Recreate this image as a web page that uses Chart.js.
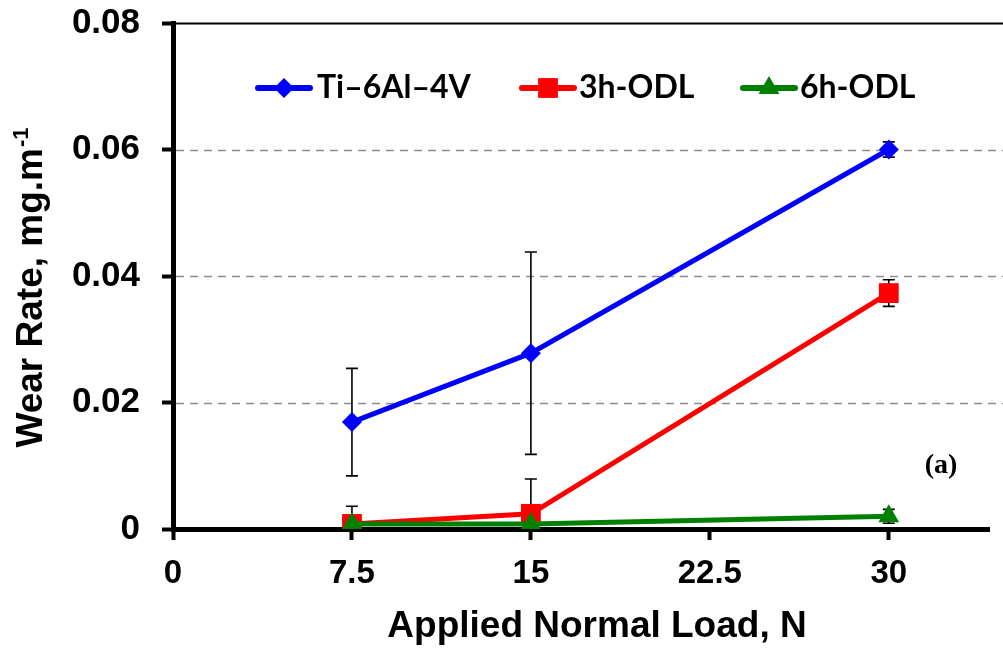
<!DOCTYPE html>
<html>
<head>
<meta charset="utf-8">
<script src="https://cdn.jsdelivr.net/npm/chart.js@4.4.0/dist/chart.umd.min.js"></script>
<style>
  html, body { margin: 0; padding: 0; background: #fff; }
  canvas { display: block; }
</style>
</head>
<body>
<canvas id="wearChart" width="1003" height="655"></canvas>
<script>
// ---- data ----
const loads = [7.5, 15, 30];
const seriesNames = ['Ti\u20136Al\u20134V', '3h-ODL', '6h-ODL'];
const tiRate = [0.0169, 0.0278, 0.0600];
const tiErr = [0.0085, 0.0160, 0.0012];
const odl3Rate = [0.0008, 0.0024, 0.0373];
const odl3Err = [0.0028, 0.0055, 0.0021];
const odl6Rate = [0.0008, 0.0008, 0.0020];
const odl6Err = [0.0004, 0.0003, 0.0011];
const xTicks = [0, 7.5, 15, 22.5, 30];
const yTicks = [0, 0.02, 0.04, 0.06, 0.08];

const boldSans = '"Liberation Sans", Arial, sans-serif';

function pts(vals) {
    return loads.map((x, i) => ({ x: x, y: vals[i] }));
}

/*------ error bars + dashed grid ------*/
const extras = {
    id: 'extras',
    beforeDatasetsDraw(chart) {
        const ctx = chart.ctx;
        const xs = chart.scales.x, ys = chart.scales.y;
        const area = chart.chartArea;
        ctx.save();
        // horizontal grid
        yTicks.forEach(v => {
            if (v === 0) return;
            const y = Math.round(ys.getPixelForValue(v)) + 0.5;
            ctx.beginPath();
            if (v === yTicks[yTicks.length - 1]) {
                ctx.setLineDash([]);
                ctx.strokeStyle = '#000';
                ctx.lineWidth = 2;
            } else {
                ctx.setLineDash([8, 6]);
                ctx.strokeStyle = '#8c8c8c';
                ctx.lineWidth = 1.5;
            }
            ctx.moveTo(area.left + 3, y);
            ctx.lineTo(chart.width, y);
            ctx.stroke();
        });
        ctx.setLineDash([]);
        // error bars
        ctx.beginPath();
        ctx.rect(area.left, area.top - 10, area.right - area.left, area.bottom - area.top + 10);
        ctx.clip();
        ctx.strokeStyle = '#000';
        ctx.lineWidth = 1.6;
        chart.data.datasets.forEach(ds => {
            ds.data.forEach((p, i) => {
                const e = ds.errors[i];
                const x = xs.getPixelForValue(p.x);
                const y1 = ys.getPixelForValue(p.y + e);
                const y2 = ys.getPixelForValue(p.y - e);
                ctx.beginPath();
                ctx.moveTo(x, y1); ctx.lineTo(x, y2);
                ctx.moveTo(x - 6, y1); ctx.lineTo(x + 6, y1);
                ctx.moveTo(x - 6, y2); ctx.lineTo(x + 6, y2);
                ctx.stroke();
            });
        });
        ctx.restore();
    },
    afterDraw(chart) {
        const ctx = chart.ctx;
        ctx.save();
        // legend
        const legendX = [284, 548, 769];
        const textX = [317, 579, 800];
        chart.data.datasets.forEach((ds, i) => {
            const cx = legendX[i], cy = 88;
            ctx.strokeStyle = ds.borderColor;
            ctx.lineWidth = 6;
            ctx.lineCap = 'round';
            ctx.beginPath();
            ctx.moveTo(cx - 26, cy);
            ctx.lineTo(cx + 26, cy);
            ctx.stroke();
            ctx.fillStyle = ds.pointBackgroundColor;
            Chart.helpers.drawPoint(ctx, {
                pointStyle: ds.pointStyle, radius: ds.pointRadius, rotation: 0, borderWidth: 0
            }, cx, cy);
            ctx.fillStyle = '#000';
            ctx.font = 'bold 32px Lato, "Open Sans", sans-serif';
            ctx.textAlign = 'left';
            ctx.textBaseline = 'alphabetic';
            ctx.fillText(ds.label, textX[i], 98);
        });

        // x title
        ctx.fillStyle = '#000';
        ctx.font = 'bold 37px ' + boldSans;
        ctx.textAlign = 'center';
        ctx.fillText('Applied Normal Load, N', 597, 637);

        // y title with superscript
        const main = 'Wear Rate, mg.m';
        const sup = '-1';
        ctx.font = 'bold 37px ' + boldSans;
        const wMain = ctx.measureText(main).width;
        ctx.font = 'bold 22px ' + boldSans;
        const wSup = ctx.measureText(sup).width;
        ctx.translate(42, 288);
        ctx.rotate(-Math.PI / 2);
        ctx.textAlign = 'left';
        const start = -(wMain + wSup) / 2;
        ctx.font = 'bold 37px ' + boldSans;
        ctx.fillText(main, start, 0);
        ctx.font = 'bold 22px ' + boldSans;
        ctx.fillText(sup, start + wMain + 1, -14);
        ctx.setTransform(1, 0, 0, 1, 0, 0);

        // panel label
        ctx.font = 'bold 28px "Liberation Serif", "Times New Roman", serif';
        ctx.textAlign = 'center';
        ctx.fillText('(a)', 941, 473);
        ctx.restore();
    }
};

const ctx = document.getElementById('wearChart').getContext('2d');
const wearChart = new Chart(ctx, {
    type: 'line',
    data: {
        datasets: [{
            label: seriesNames[0],
            data: pts(tiRate),
            errors: tiErr,
            borderColor: '#0000ff',
            backgroundColor: '#0000ff',
            pointBackgroundColor: '#0000ff',
            pointStyle: 'rectRot',
            pointRadius: 10,
            order: 2
        }, {
            label: seriesNames[1],
            data: pts(odl3Rate),
            errors: odl3Err,
            borderColor: '#ff0000',
            backgroundColor: '#ff0000',
            pointBackgroundColor: '#ff0000',
            pointStyle: 'rect',
            pointRadius: 14,
            order: 1
        }, {
            label: seriesNames[2],
            data: pts(odl6Rate),
            errors: odl6Err,
            borderColor: '#008000',
            backgroundColor: '#008000',
            pointBackgroundColor: '#008000',
            pointStyle: 'triangle',
            pointRadius: 12,
            order: 0
        }]
    },
    options: {
        responsive: false,
        animation: false,
        layout: { padding: { top: 23, right: 0, left: 0, bottom: 0 } },
        elements: {
            line: { borderWidth: 5, tension: 0 },
            point: { borderWidth: 0, hoverRadius: 10 }
        },
        plugins: {
            legend: { display: false },
            tooltip: { enabled: false }
        },
        scales: {
            x: {
                type: 'linear',
                min: 0,
                max: 34.2,
                afterBuildTicks: s => { s.ticks = xTicks.map(v => ({ value: v })); },
                afterFit: s => { s.height = 126; s.paddingLeft = 0; s.paddingRight = 0; },
                border: { color: '#000', width: 5 },
                grid: { drawOnChartArea: false, drawTicks: true, tickLength: 11, tickWidth: 4, tickColor: '#000' },
                ticks: {
                    color: '#000',
                    padding: 14,
                    maxRotation: 0,
                    font: { family: boldSans, size: 33, weight: 'bold' },
                    callback: v => String(v)
                }
            },
            y: {
                min: 0,
                max: 0.08,
                afterBuildTicks: s => { s.ticks = yTicks.map(v => ({ value: v })); },
                afterFit: s => { s.width = 173; s.paddingTop = 0; s.paddingBottom = 0; },
                border: { color: '#000', width: 5 },
                grid: { drawOnChartArea: false, drawTicks: true, tickLength: 11, tickWidth: 4, tickColor: '#000' },
                ticks: {
                    color: '#000',
                    padding: 22,
                    font: { family: boldSans, size: 35, weight: 'bold' },
                    callback: v => (v === 0 ? '0' : v.toFixed(2))
                }
            }
        }
    },
    plugins: [extras]
});
</script>
</body>
</html>
